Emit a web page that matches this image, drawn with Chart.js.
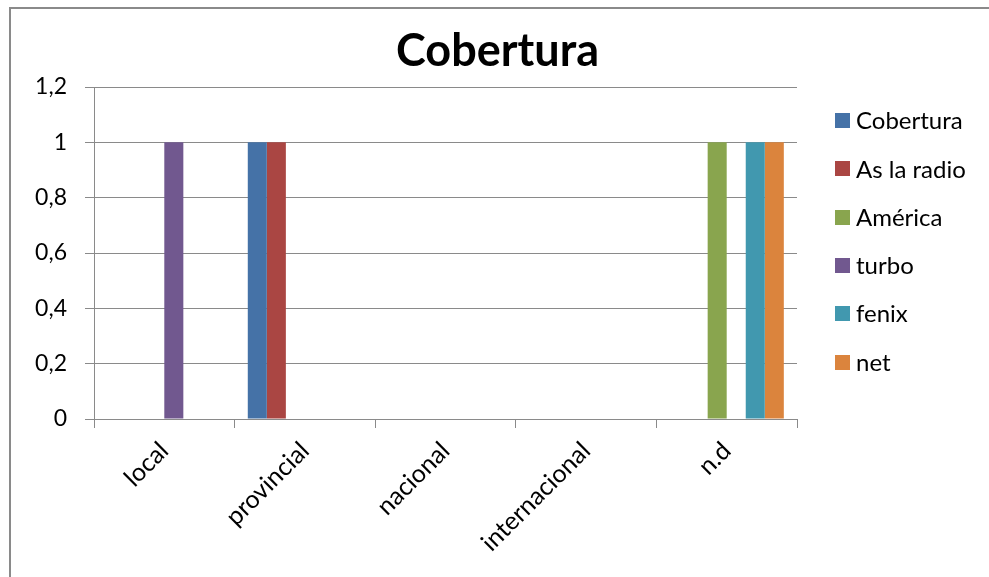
<!DOCTYPE html>
<html>
<head>
<meta charset="utf-8">
<script src="https://cdn.jsdelivr.net/npm/chart.js@4"></script>
<style>
  html, body { margin: 0; padding: 0; background: #ffffff; }
  #wrap { position: relative; width: 989px; height: 577px; }
</style>
</head>
<body>
<div id="wrap"><canvas id="c" width="989" height="577"></canvas></div>
<script>
// Coverage categories and one series per radio station
const categories = ['local', 'provincial', 'nacional', 'internacional', 'n.d'];
const seriesNames = ['Cobertura', 'As la radio', 'América', 'turbo', 'fenix', 'net'];
const cobertura  = [0, 1, 0, 0, 0];
const asLaRadio  = [0, 1, 0, 0, 0];
const america    = [0, 0, 0, 0, 1];
const turbo      = [1, 0, 0, 0, 0];
const fenix      = [0, 0, 0, 0, 1];
const net        = [0, 0, 0, 0, 1];
const yTickLabels = ['0', '0,2', '0,4', '0,6', '0,8', '1', '1,2'];
const seriesColors = ['#4572A7', '#AA4643', '#89A54E', '#71588F', '#4198AF', '#DB843D'];
const chartTitle = 'Cobertura';

const seriesValues = [cobertura, asLaRadio, america, turbo, fenix, net];
const FONT = 'Lato, "Open Sans", sans-serif';
const GRID = '#8a8a8a';

// Frame lines along the top and left edges, plus the centred title
const framePlugin = {
  id: 'frame',
  beforeDraw(chart) {
    const ctx = chart.ctx;
    ctx.save();
    ctx.fillStyle = '#ffffff';
    ctx.fillRect(0, 0, chart.width, chart.height);
    ctx.strokeStyle = GRID;
    ctx.lineWidth = 2;
    ctx.beginPath();
    ctx.moveTo(9, 8);
    ctx.lineTo(chart.width, 8);
    ctx.moveTo(10, 8);
    ctx.lineTo(10, chart.height);
    ctx.stroke();

    ctx.fillStyle = '#000000';
    ctx.font = 'bold 45px ' + FONT;
    ctx.textAlign = 'center';
    ctx.textBaseline = 'alphabetic';
    ctx.fillText(chartTitle, 497.5, 66);
    ctx.restore();
  }
};

// Legend column at the right, built from the datasets
const sideLegend = {
  id: 'sideLegend',
  afterDraw(chart) {
    const ctx = chart.ctx;
    ctx.save();
    ctx.font = '24px ' + FONT;
    ctx.textBaseline = 'middle';
    ctx.textAlign = 'left';
    chart.data.datasets.forEach((ds, i) => {
      const cy = 120.5 + i * 48.3;
      ctx.fillStyle = ds.backgroundColor;
      ctx.fillRect(835, Math.round(cy - 7.5), 15, 15);
      ctx.fillStyle = '#000000';
      ctx.fillText(ds.label, 856, cy + 1);
    });
    ctx.restore();
  }
};

new Chart(document.getElementById('c'), {
  type: 'bar',
  data: {
    labels: categories,
    datasets: seriesNames.map((name, i) => ({
      label: name,
      data: seriesValues[i],
      backgroundColor: seriesColors[i],
      borderWidth: 0,
      categoryPercentage: 0.8125,
      barPercentage: 1.0
    }))
  },
  options: {
    responsive: false,
    animation: false,
    layout: { padding: { left: 0, right: 192, top: 87, bottom: 0 } },
    plugins: {
      legend: { display: false },
      tooltip: { enabled: false },
      title: { display: false }
    },
    scales: {
      x: {
        offset: true,
        grid: {
          offset: true,
          drawOnChartArea: false,
          drawTicks: true,
          tickLength: 9,
          color: GRID,
          lineWidth: 1
        },
        border: { display: true, color: GRID, width: 1 },
        ticks: {
          color: '#000000',
          font: { family: FONT, size: 25 },
          minRotation: 45,
          maxRotation: 45,
          padding: 8
        },
        afterFit(scale) { scale.height = 158; }
      },
      y: {
        min: 0,
        max: 1.2,
        ticks: {
          stepSize: 0.2,
          color: '#000000',
          font: { family: FONT, size: 23 },
          padding: 18,
          callback: (v, idx) => yTickLabels[idx]
        },
        grid: {
          color: GRID,
          lineWidth: 1,
          tickLength: 9,
          drawTicks: true
        },
        border: { display: true, color: GRID, width: 1 },
        afterFit(scale) { scale.width = 94; }
      }
    }
  },
  plugins: [framePlugin, sideLegend]
});
</script>
</body>
</html>
